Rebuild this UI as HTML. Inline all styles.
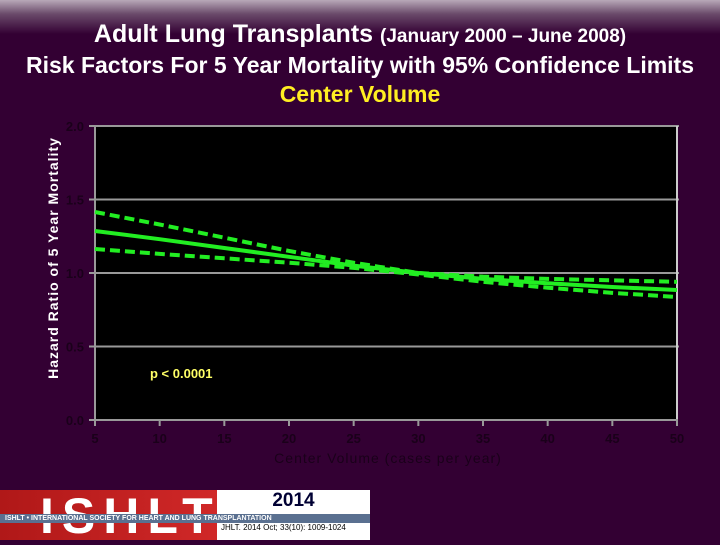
<!DOCTYPE html>
<html style="background:#330033"><head><meta charset="utf-8"><style>
body{margin:0;width:720px;height:540px;background:#330033;overflow:hidden;font-family:"Liberation Sans",Arial,sans-serif;position:relative}
.t{position:absolute;left:0;width:720px;text-align:center;font-weight:bold;white-space:nowrap}
</style></head><body>
<div style="position:absolute;left:0;top:0;width:720px;height:36px;background:linear-gradient(180deg,#b8a8b8 0px,#6a4a6a 14px,#330033 34px)"></div>
<div class="t" style="top:20px;font-size:25px;color:#fff">Adult Lung Transplants <span style="font-size:19px">(January 2000 – June 2008)</span></div>
<div class="t" style="top:52px;font-size:23px;color:#fff">Risk Factors For 5 Year Mortality with 95% Confidence Limits</div>
<div class="t" style="top:81px;font-size:23px;color:#ffee22">Center Volume</div>
<svg width="720" height="540" style="position:absolute;left:0;top:0">
<g id="g"></g>
</svg>
<div style="position:absolute;left:0;top:490px;width:217px;height:50px;background:linear-gradient(90deg,#b01818,#d02828)">
<div style="position:absolute;left:40px;top:-3px;font-size:50px;font-weight:bold;color:#fff;letter-spacing:8px">ISHLT</div>
</div>
<div style="position:absolute;left:217px;top:490px;width:153px;height:50px;background:#fff">
<div style="position:absolute;left:0;width:153px;top:0;text-align:center;font-size:19px;font-weight:bold;color:#000033">2014</div>
<div style="position:absolute;left:4px;top:33px;font-size:8px;color:#000">JHLT. 2014 Oct; 33(10): 1009-1024</div>
</div>
<div style="position:absolute;left:0;top:514px;width:370px;height:9px;background:#5a7090;color:#fff;font-size:7px;font-weight:bold;line-height:9px;padding-left:5px;box-sizing:border-box;white-space:nowrap">ISHLT • INTERNATIONAL SOCIETY FOR HEART AND LUNG TRANSPLANTATION</div>
<script>
const xTicks=[5,10,15,20,25,30,35,40,45,50];
const yTicks=[0,0.5,1.0,1.5,2.0];
const xs=[5,10,15,20,25,30,35,40,45,50];
const estimate=[1.286,1.23,1.17,1.11,1.05,1.0,0.96,0.93,0.905,0.884];
const upper=[1.415,1.33,1.24,1.15,1.07,1.0,0.975,0.96,0.95,0.94];
const lower=[1.163,1.13,1.10,1.07,1.035,0.99,0.94,0.9,0.865,0.837];
const X=v=>95+(v-5)/45*582, Y=v=>420-v*147;
const g=document.getElementById('g'),NS='http://www.w3.org/2000/svg';
function mk(t,a,n){const e=document.createElementNS(NS,t);for(const k in a)e.setAttribute(k,a[k]);


g.appendChild(e);return e;}
mk('rect',{x:95,y:Y(2),width:582,height:Y(0)-Y(2),fill:'#000'},'plot-area');
yTicks.forEach(v=>{if(v>0)mk('line',{x1:89,x2:679,y1:Y(v),y2:Y(v),stroke:'#999','stroke-width':2},'gridline');
const t=mk('text',{x:84,y:Y(v)+5,'text-anchor':'end','font-size':13,'font-weight':'bold',fill:'#1a001a'},'y-tick-label');t.textContent=v.toFixed(1);});
mk('line',{x1:95,x2:95,y1:Y(2),y2:Y(0)+2,stroke:'#999','stroke-width':2},'y-axis');
mk('line',{x1:677,x2:677,y1:Y(2),y2:Y(0),stroke:'#ccc','stroke-width':2},'right-border');
mk('line',{x1:89,x2:678,y1:Y(0),y2:Y(0),stroke:'#999','stroke-width':2},'x-axis');
xTicks.forEach(v=>{mk('line',{x1:X(v),x2:X(v),y1:Y(0),y2:Y(0)+6,stroke:'#999','stroke-width':2},'x-tick');
const t=mk('text',{x:X(v),y:443,'text-anchor':'middle','font-size':13,'font-weight':'bold',fill:'#1a001a'},'x-tick-label');t.textContent=v;});
const xt=mk('text',{x:388,y:463,'text-anchor':'middle','font-size':14,fill:'#1a001a','letter-spacing':1},'x-axis-title');xt.textContent='Center Volume (cases per year)';
const yt=mk('text',{x:0,y:0,'text-anchor':'middle','font-size':14,'font-weight':'bold',fill:'#fff','letter-spacing':1,transform:'translate(58,258) rotate(-90)'},'y-axis-title');yt.textContent='Hazard Ratio of 5 Year Mortality';
function line(arr,dash,n){mk('path',{d:arr.map((v,i)=>(i?'L':'M')+X(xs[i])+','+Y(v)).join(''),fill:'none',stroke:'#22ee22','stroke-width':4,'stroke-dasharray':dash},n);}
line(upper,'10,5','upper-ci-line');line(lower,'10,5','lower-ci-line');line(estimate,'none','hazard-ratio-line');
const p=mk('text',{x:150,y:378,'font-size':13,'font-weight':'bold',fill:'#ffff66'},'p-value-label');p.textContent='p < 0.0001';
</script>
</body></html>
